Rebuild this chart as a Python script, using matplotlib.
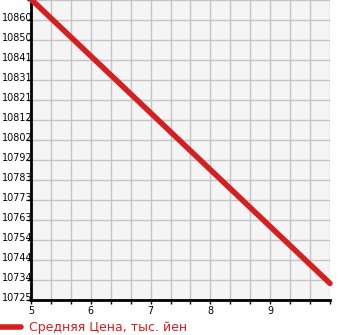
import numpy as np
import matplotlib.pyplot as plt
import matplotlib.transforms as mtransforms

years = [5, 10]
price = [10870, 10733]

y_ticks = [10725, 10734, 10744, 10754, 10763, 10773, 10783, 10792,
           10802, 10812, 10821, 10831, 10841, 10850, 10860]
y_min = 10725
y_step = 9.64
x_labels = ['5', '6', '7', '8', '9']

fig = plt.figure(figsize=(3.45, 3.35), dpi=100)
ax = fig.add_axes([31/345, 35/335, 299/345, 300/335])
ax.set_facecolor('#f5f5f5')

ax.plot(years, price, color='#d42020', lw=4, solid_capstyle='round',
        label='Средняя Цена, тыс. йен', zorder=3, clip_on=False)

ax.set_xlim(5, 10)
ax.set_ylim(y_min, y_min + 15 * y_step)

xt = np.arange(0, 16) / 3 + 5
ax.set_xticks(xt)
ax.set_xticklabels([x_labels[i // 3] if i % 3 == 0 and i < 15 else '' for i in range(16)])
yt = [y_min + k * y_step for k in range(16)]
ax.set_yticks(yt)
ax.set_yticklabels([str(v) for v in y_ticks] + [''])

ax.grid(True, color='#c4c4c4', lw=1)
ax.set_axisbelow(True)
for s in ['top', 'right']:
    ax.spines[s].set_visible(False)
for s in ['left', 'bottom']:
    ax.spines[s].set_linewidth(2)
ax.tick_params(axis='both', length=3, width=1, labelsize=6.9, colors='black')
ax.tick_params(axis='y', pad=-4)
ax.tick_params(axis='x', pad=1.5)

offset = mtransforms.ScaledTranslation(0, 3/100, fig.dpi_scale_trans)
for lab in ax.get_yticklabels():
    lab.set_transform(lab.get_transform() + offset)

leg = ax.legend(loc='center left', bbox_to_anchor=(-31/299, -28/300), frameon=False,
                fontsize=9, handlelength=1.7, handletextpad=0.6, borderpad=0,
                borderaxespad=0)
for t in leg.get_texts():
    t.set_color('#d42020')

fig.savefig('out.png', dpi=100)
